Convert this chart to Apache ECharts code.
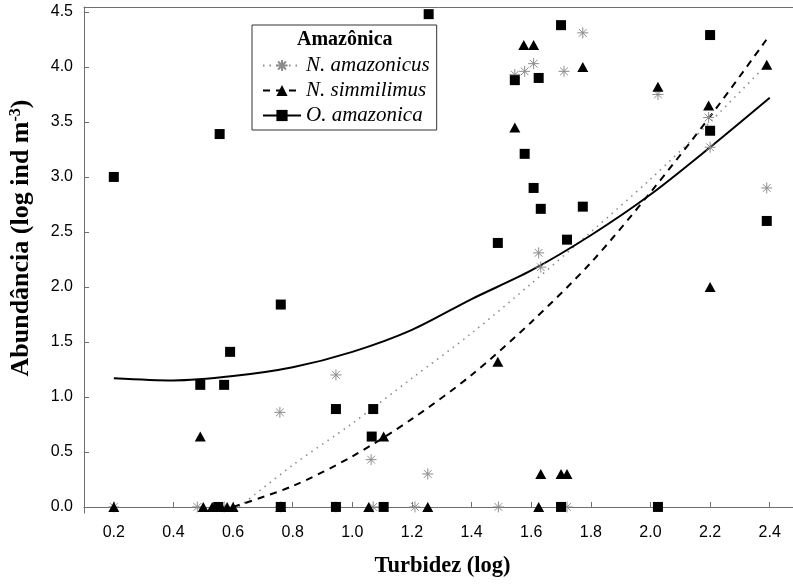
<!DOCTYPE html>
<html>
<head>
<meta charset="utf-8">
<script src="https://cdn.jsdelivr.net/npm/echarts@6/dist/echarts.min.js"></script>
<style>
  html, body { margin: 0; padding: 0; background: #fff; }
  #main { width: 793px; height: 586px; }
</style>
</head>
<body>
<div id="main"></div>
<script>
// tick labels
var xTicks = [0.2, 0.4, 0.6, 0.8, 1.0, 1.2, 1.4, 1.6, 1.8, 2.0, 2.2, 2.4];
var yTicks = [0, 0.5, 1.0, 1.5, 2.0, 2.5, 3.0, 3.5, 4.0, 4.5];

// N. amazonicus (asterisks)
var amazonicusPts = [
  [0.20, 0], [0.48, 0], [0.57, 0], [0.76, 0], [0.945, 0], [1.07, 0], [1.21, 0], [1.49, 0], [1.72, 0],
  [0.757, 0.86], [0.945, 1.20], [1.063, 0.43], [1.253, 0.30],
  [1.545, 3.93], [1.578, 3.96], [1.608, 4.03], [1.71, 3.96], [1.773, 4.31],
  [1.625, 2.31], [1.632, 2.18], [2.025, 3.75], [2.195, 3.54], [2.2, 3.27], [2.39, 2.90]
];
// N. simmilimus (triangles)
var simmilimusPts = [
  [0.20, 0], [0.50, 0], [0.53, 0], [0.56, 0], [0.58, 0], [0.60, 0], [0.76, 0], [1.055, 0], [1.253, 0], [1.625, 0],
  [0.49, 0.64], [1.105, 0.64], [1.488, 1.32], [1.632, 0.30], [1.70, 0.30], [1.72, 0.30],
  [1.545, 3.45], [1.575, 4.20], [1.608, 4.20], [1.773, 4.00], [2.025, 3.82], [2.195, 3.65],
  [2.39, 4.02], [2.2, 2.00]
];
// O. amazonica (squares)
var amazonicaPts = [
  [0.55, 0], [0.76, 0], [0.945, 0], [1.105, 0], [1.70, 0], [2.025, 0],
  [0.2, 3.00], [0.555, 3.39], [1.256, 4.48], [0.76, 1.84], [0.59, 1.41], [0.49, 1.11], [0.57, 1.11],
  [0.945, 0.89], [1.07, 0.89], [1.065, 0.64], [1.488, 2.40], [1.545, 3.88], [1.625, 3.90],
  [1.70, 4.38], [1.578, 3.21], [1.608, 2.90], [1.632, 2.71], [1.773, 2.73], [1.72, 2.43],
  [2.2, 4.29], [2.2, 3.42], [2.39, 2.60]
];

// fitted curves
var fitAmazonicaX = [0.2, 0.4, 0.6, 0.8, 1.0, 1.2, 1.4, 1.6, 1.8, 2.0, 2.2, 2.4];
var fitAmazonicaY = [1.17, 1.15, 1.19, 1.27, 1.41, 1.61, 1.89, 2.15, 2.47, 2.84, 3.27, 3.72];
var fitAmazonicusX = [0.62, 0.8, 1.0, 1.2, 1.4, 1.6, 1.8, 2.0, 2.2, 2.4];
var fitAmazonicusY = [0, 0.38, 0.76, 1.17, 1.58, 2.03, 2.50, 2.98, 3.50, 4.05];
var fitSimmilimusX = [0.6, 0.8, 1.0, 1.2, 1.4, 1.6, 1.8, 2.0, 2.2, 2.4];
var fitSimmilimusY = [0, 0.19, 0.46, 0.80, 1.20, 1.68, 2.22, 2.86, 3.55, 4.29];

function zip(xs, ys) {
  return xs.map(function (x, i) { return [x, ys[i]]; });
}

var star = 'path://M0,5L10,5M5,0L5,10M1.5,1.5L8.5,8.5M8.5,1.5L1.5,8.5';
var serif = '"Liberation Serif", "Times New Roman", serif';
var sans = '"Liberation Sans", Arial, sans-serif';
var axisGrey = '#6e6e6e';

var chart = echarts.init(document.getElementById('main'));
chart.setOption({
  backgroundColor: '#fff',
  animation: false,
  grid: { left: 84, right: 0, top: 7, bottom: 73 },
  legend: {
    orient: 'vertical',
    left: 252,
    top: 25,
    padding: [30, 7, 4, 10],
    borderColor: '#333',
    borderWidth: 1,
    itemWidth: 38,
    itemHeight: 14,
    itemGap: 4,
    selectedMode: false,
    data: ['N. amazonicus', 'N. simmilimus', 'O. amazonica'],
    textStyle: { fontFamily: serif, fontStyle: 'italic', fontSize: 21, color: '#000' }
  },
  graphic: [{
    type: 'text',
    left: 297,
    top: 30,
    style: { text: 'Amazônica', font: 'bold 20px ' + serif, fill: '#000' }
  }],
  xAxis: [{
    type: 'value',
    min: 0.1,
    max: 2.478,
    name: 'Turbidez (log)',
    nameLocation: 'middle',
    nameGap: 42,
    nameTextStyle: { fontFamily: serif, fontWeight: 'bold', fontSize: 22.5, color: '#000', padding: [0, 0, 0, 8] },
    axisLine: { lineStyle: { color: axisGrey } },
    axisTick: { inside: true, length: 5, customValues: xTicks, lineStyle: { color: axisGrey } },
    axisLabel: {
      customValues: xTicks, margin: 12, fontFamily: sans, fontSize: 16, color: '#000',
      formatter: function (v) { return v.toFixed(1); }
    },
    splitLine: { show: false }
  }, {
    type: 'value',
    position: 'top',
    min: 0.1,
    max: 2.478,
    axisLine: { show: true, lineStyle: { color: axisGrey } },
    axisTick: { show: false },
    axisLabel: { show: false },
    splitLine: { show: false }
  }],
  yAxis: {
    type: 'value',
    min: -0.055,
    max: 4.545,
    name: '{t|Abundância (log ind m}{s|-3}{t|)}',
    nameLocation: 'middle',
    nameGap: 50,
    nameTextStyle: {
      padding: [0, 0, 0, 44],
      rich: {
        t: { fontFamily: serif, fontWeight: 'bold', fontSize: 26, color: '#000' },
        s: { fontFamily: serif, fontWeight: 'bold', fontSize: 16, color: '#000', verticalAlign: 'top' }
      }
    },
    axisLine: { show: true, lineStyle: { color: axisGrey } },
    axisTick: { show: true, inside: true, length: 5, customValues: yTicks, lineStyle: { color: axisGrey } },
    axisLabel: {
      customValues: yTicks, margin: 11, fontFamily: sans, fontSize: 16, color: '#000',
      formatter: function (v) { return v.toFixed(1); }
    },
    splitLine: { show: false }
  },
  series: [
    {
      name: 'N. amazonicus', type: 'line', smooth: 0.3, showSymbol: false, symbol: star,
      itemStyle: { color: 'rgba(0,0,0,0)', borderColor: '#8c8c8c', borderWidth: 1 },
      lineStyle: { color: '#8c8c8c', width: 1.6, type: [1.5, 5] },
      data: zip(fitAmazonicusX, fitAmazonicusY), z: 3
    },
    {
      name: 'N. simmilimus', type: 'line', smooth: 0.3, showSymbol: false, symbol: 'triangle',
      itemStyle: { color: '#000' },
      lineStyle: { color: '#000', width: 2, type: [7, 6] },
      data: zip(fitSimmilimusX, fitSimmilimusY), z: 3
    },
    {
      name: 'O. amazonica', type: 'line', smooth: 0.3, showSymbol: false, symbol: 'rect',
      itemStyle: { color: '#000' },
      lineStyle: { color: '#000', width: 2 },
      data: zip(fitAmazonicaX, fitAmazonicaY), z: 3
    },
    {
      name: 'N. amazonicus', type: 'scatter', symbol: star, symbolSize: 11,
      itemStyle: { color: 'rgba(0,0,0,0)', borderColor: '#8c8c8c', borderWidth: 1, opacity: 1 },
      data: amazonicusPts, z: 4
    },
    {
      name: 'N. simmilimus', type: 'scatter', symbol: 'triangle', symbolSize: [11, 10],
      itemStyle: { color: '#000', opacity: 1 },
      data: simmilimusPts, z: 4
    },
    {
      name: 'O. amazonica', type: 'scatter', symbol: 'rect', symbolSize: 10,
      itemStyle: { color: '#000', opacity: 1 },
      data: amazonicaPts, z: 4
    }
  ]
});
</script>
</body>
</html>
